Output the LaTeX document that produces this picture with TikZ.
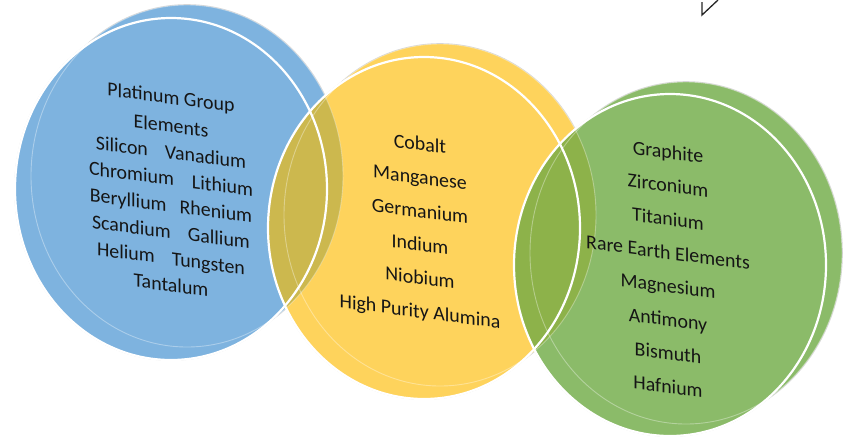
\documentclass[tikz,border=0pt]{standalone}
\usepackage{fontspec}
\setmainfont{Carlito}
\definecolor{cblue}{HTML}{7EB3DF}
\definecolor{cyel}{HTML}{FED35C}
\definecolor{cgrn}{HTML}{8BBB69}
\definecolor{cby}{HTML}{CCB84E}
\definecolor{cyg}{HTML}{8DB24A}
\definecolor{ctext}{HTML}{151515}
\begin{document}
\begin{tikzpicture}[x=1pt,y=-1pt,
  ell/.style={x radius=156pt, y radius=171pt},
  rim/.style={draw=black!18, line width=1.6pt},
  backedge/.style={draw=white, draw opacity=0.35, line width=0.9pt},
  frontedge/.style={draw=white, line width=2.2pt},
  lbl/.style={text=ctext, align=center, yslant=-0.13, inner sep=0pt, font=\fontsize{19.9}{33.5}\selectfont}]
\useasboundingbox (0,0) rectangle (858,440);
% centres
\coordinate (bf) at (171,189);
\coordinate (bb) at (187,176);
\coordinate (yf) at (424,228);
\coordinate (yb) at (440,215);
\coordinate (gf) at (670,265);
\coordinate (gb) at (686,253);
% outer rims
\foreach \c in {bb,bf,yb,yf,gb,gf} { \draw[rim] (\c) ellipse [ell]; }
% fills
\fill[cblue] (bb) ellipse [ell];
\fill[cblue] (bf) ellipse [ell];
\fill[cyel] (yb) ellipse [ell];
\fill[cyel] (yf) ellipse [ell];
\fill[cgrn] (gb) ellipse [ell];
\fill[cgrn] (gf) ellipse [ell];
% overlaps
\foreach \a in {bf,bb} { \foreach \b in {yf,yb} {
  \begin{scope} \clip (\a) ellipse [ell]; \fill[cby] (\b) ellipse [ell]; \end{scope} } }
\foreach \a in {yf,yb} { \foreach \b in {gf,gb} {
  \begin{scope} \clip (\a) ellipse [ell]; \fill[cyg] (\b) ellipse [ell]; \end{scope} } }
% faint back edges
\foreach \c in {bb,yb,gb} { \draw[backedge] (\c) ellipse [ell]; }
% front white outlines
\foreach \c in {bf,yf,gf} { \draw[frontedge] (\c) ellipse [ell]; }
% corner mark
\coordinate (t1) at (702,2);
\coordinate (t2) at (702,15);
\coordinate (t3) at (718,0);
\draw[line width=1.3pt, black!85, line join=miter] (t1) -- (t2) -- (t3);
% texts
\node[lbl, font=\fontsize{19.9}{26.5}\selectfont] (blueText) at (171,191)
 {Platinum Group\\[2pt]Elements\\Silicon\hspace{17pt}Vanadium\\Chromium\hspace{18pt}Lithium\\Beryllium\hspace{13pt}Rhenium\\Scandium\hspace{17pt}Gallium\\Helium\hspace{17pt}Tungsten\\Tantalum};
\node[lbl] (yelText) at (420,229)
 {Cobalt\\Manganese\\Germanium\\Indium\\Niobium\\High Purity Alumina};
\node[lbl] (grnText) at (668,269)
 {Graphite\\Zirconium\\Titanium\\Rare Earth Elements\\Magnesium\\Antimony\\Bismuth\\Hafnium};
\end{tikzpicture}
\end{document}
